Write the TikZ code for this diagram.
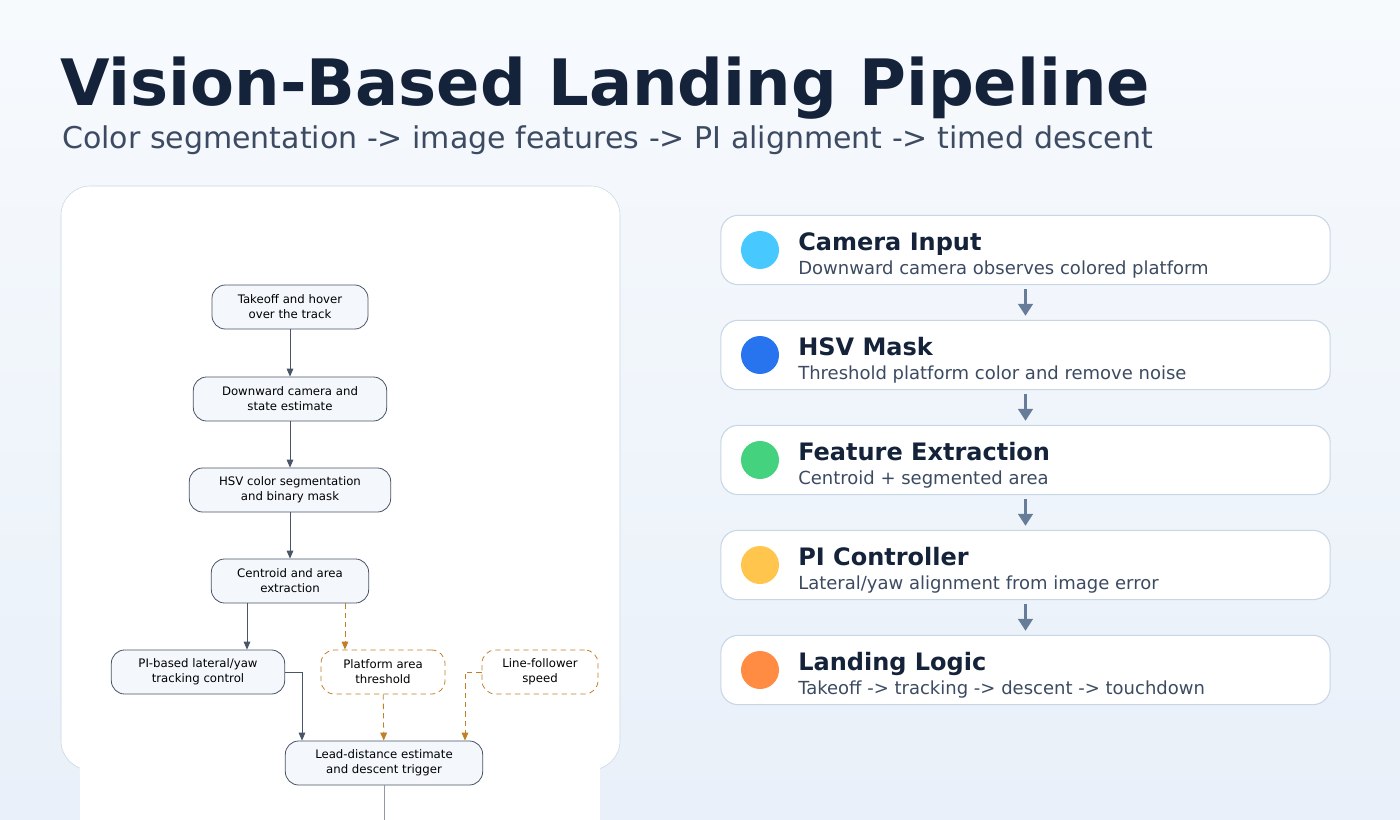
\documentclass[tikz,border=0pt]{standalone}
\usepackage{fontspec}
\setmainfont{DejaVu Sans}
\usetikzlibrary{positioning,arrows.meta}
\definecolor{ink}{HTML}{14233A}
\definecolor{subink}{HTML}{3C4B62}
\definecolor{cardline}{HTML}{C9D6E6}
\definecolor{flowline}{HTML}{4A5568}
\definecolor{flowfill}{HTML}{F4F8FC}
\definecolor{amber}{HTML}{C08028}
\definecolor{stepgray}{HTML}{667C98}
\definecolor{bgtop}{HTML}{F7FAFD}
\definecolor{bgbot}{HTML}{E9F0F9}
\begin{document}
\begin{tikzpicture}[
    x=0.75pt, y=-0.75pt,
    stage/.style={rectangle, rounded corners=10pt, draw=flowline, semithick, fill=flowfill, align=center, font=\fontsize{8.8}{11.2}\selectfont, minimum height=33pt, inner sep=2pt},
    opt/.style={stage, draw=amber, fill=white, dash pattern=on 4pt off 3pt},
    flow/.style={draw=flowline, semithick, -{Triangle[length=6pt,width=5pt]}},
    optflow/.style={draw=amber, semithick, dash pattern=on 4pt off 3pt, -{Triangle[length=6pt,width=5pt]}},
    card/.style={rectangle, rounded corners=13pt, draw=cardline, thick, fill=white, minimum width=457pt, minimum height=52pt},
    link/.style={draw=stepgray, line width=2pt, -{Triangle[length=9pt,width=11pt]}}
]
\useasboundingbox (0,0) rectangle (1400,820);
\shade[top color=bgtop, bottom color=bgbot] (0,0) rectangle (1400,820);

% Title
\node[anchor=base west, text=ink, font=\fontsize{48}{50}\selectfont\bfseries, inner sep=0] (title) at (60,106) {Vision-Based Landing Pipeline};
\node[anchor=base west, text=subink, font=\fontsize{22.5}{25}\selectfont, inner sep=0] (subtitle) at (62,149) {Color segmentation -> image features -> PI alignment -> timed descent};

% Left panel
\draw[cardline, fill=white, rounded corners=22pt] (61,186) rectangle (620,770);
\fill[white] (80,755) rectangle (600,820);

\node[stage, minimum width=117pt] (takeoff) at (290,307) {Takeoff and hover\\over the track};
\node[stage, minimum width=145pt] (camera) at (290,399) {Downward camera and\\state estimate};
\node[stage, minimum width=151pt] (hsv) at (290,490) {HSV color segmentation\\and binary mask};
\node[stage, minimum width=118pt] (centroid) at (290,581) {Centroid and area\\extraction};
\node[stage, minimum width=130pt] (pi) at (198,672) {PI-based lateral/yaw\\tracking control};
\node[opt, minimum width=93pt] (area) at (383,672) {Platform area\\threshold};
\node[opt, minimum width=87pt] (speed) at (540,672) {Line-follower\\speed};
\node[stage, minimum width=148pt] (lead) at (384,763) {Lead-distance estimate\\and descent trigger};
\coordinate (out) at (384,820);

\draw[flow] (takeoff) -- (camera);
\draw[flow] (camera) -- (hsv);
\draw[flow] (hsv) -- (centroid);
\draw[flow] (centroid.south -| 247,0) -- (pi.north -| 247,0);
\draw[optflow] (centroid.south -| 345,0) -- (area.north -| 345,0);
\draw[flow] (pi.east) -- (pi.east -| 302,0) -- (lead.north -| 302,0);
\draw[optflow] (area) -- (lead);
\draw[optflow] (speed.west) -- (speed.west -| 465,0) -- (lead.north -| 465,0);
\draw[flowline!60, semithick] (lead) -- (out);

% Right cards
\foreach \i/\y/\col/\head/\body in {
    1/250/47C8FF/Camera Input/Downward camera observes colored platform,
    2/355/2873EE/HSV Mask/Threshold platform color and remove noise,
    3/460/44D27E/Feature Extraction/Centroid + segmented area,
    4/565/FFC54D/PI Controller/{Lateral/yaw alignment from image error},
    5/670/FF8C42/Landing Logic/Takeoff -> tracking -> descent -> touchdown} {
  \node[card] (card\i) at (1025.5,\y) {};
  \definecolor{dot}{HTML}{\col}
  \fill[dot] (760,\y) circle (19);
  \node[anchor=base west, text=ink, font=\fontsize{18}{20}\selectfont\bfseries, inner sep=0] (head\i) at (798,\y) {\head};
  \node[anchor=base west, text=subink, font=\fontsize{13.5}{15}\selectfont, inner sep=0] (body\i) at (798,\y+24) {\body};
}
\foreach \a/\b in {1/2,2/3,3/4,4/5}
  \draw[link] ([yshift=-3pt]card\a.south) -- ([yshift=3pt]card\b.north);
\end{tikzpicture}
\end{document}
